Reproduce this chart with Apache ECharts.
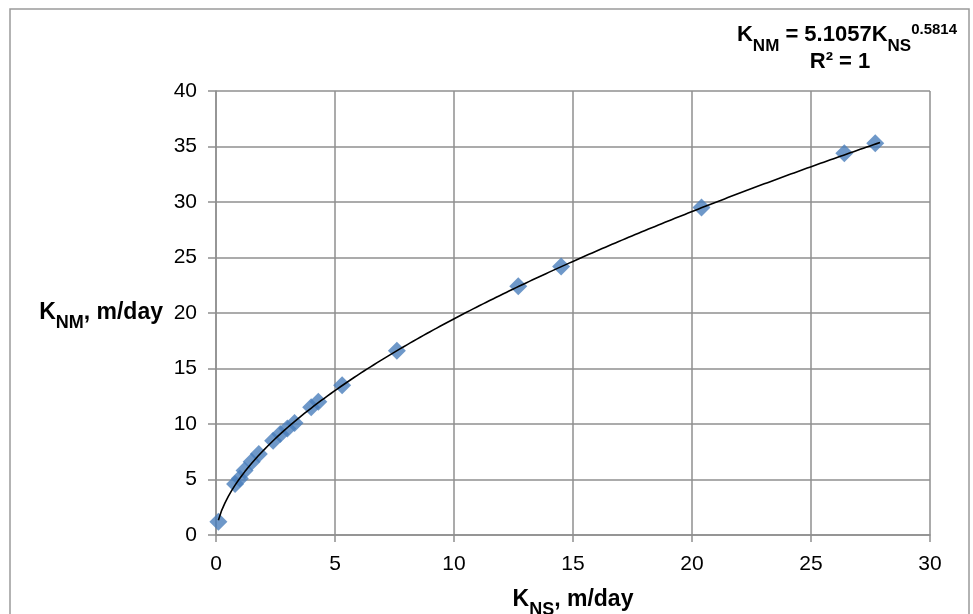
<!DOCTYPE html>
<html>
<head>
<meta charset="utf-8">
<script src="https://cdn.jsdelivr.net/npm/echarts@6/dist/echarts.min.js"></script>
<style>
html,body{margin:0;padding:0;background:#fff;}
#chart{width:973px;height:614px;}
</style>
</head>
<body>
<div id="chart"></div>
<script>
const knsValues = [0.1, 0.8, 1.0, 1.2, 1.5, 1.8, 2.4, 2.7, 3.0, 3.3, 4.0, 4.3, 5.3, 7.6, 12.7, 14.5, 20.4, 26.4, 27.7];
const knmValues = [1.2, 4.6, 5.1, 5.8, 6.6, 7.3, 8.5, 9.1, 9.6, 10.1, 11.5, 12.0, 13.5, 16.6, 22.4, 24.2, 29.5, 34.4, 35.3];

// Power trendline as printed on the chart: K_NM = 5.1057 * K_NS^0.5814
const trendCoef = 5.1057;
const trendExp = 0.5814;
const trendStart = 0.1;
const trendEnd = 27.9;
const trendSteps = 200;

const points = knsValues.map((x, i) => [x, knmValues[i]]);
const trend = [];
for (let i = 0; i <= trendSteps; i++) {
  const x = trendStart + (trendEnd - trendStart) * i / trendSteps;
  trend.push([x, trendCoef * Math.pow(x, trendExp)]);
}

const FONT = '"Liberation Sans", Arial, Helvetica, sans-serif';
const GRID = '#8f8f8f';

const titleRich = {
  b: { fontFamily: FONT, fontWeight: 'bold', fontSize: 23, color: '#000', lineHeight: 25 },
  sub: { fontFamily: FONT, fontWeight: 'bold', fontSize: 18, color: '#000', lineHeight: 18, padding: [21, 0, 0, 0] }
};
const eqRich = {
  b: { fontFamily: FONT, fontWeight: 'bold', fontSize: 22, color: '#000', lineHeight: 24 },
  sub: { fontFamily: FONT, fontWeight: 'bold', fontSize: 17, color: '#000', lineHeight: 17, padding: [23, 0, 0, 0] },
  sup: { fontFamily: FONT, fontWeight: 'bold', fontSize: 15, color: '#000', lineHeight: 15, padding: [0, 0, 11, 0] }
};

const chart = echarts.init(document.getElementById('chart'), null, { renderer: 'canvas' });
chart.setOption({
  animation: false,
  backgroundColor: '#fff',
  grid: { left: 216, right: 43, top: 91, bottom: 79, containLabel: false, outerBoundsMode: 'none' },
  xAxis: {
    type: 'value', min: 0, max: 30, interval: 5,
    name: '{b|K}{sub|NS}{b|, m/day}',
    nameLocation: 'middle', nameGap: 45,
    nameTextStyle: { rich: titleRich },
    axisLine: { show: true, lineStyle: { color: GRID, width: 1.5 } },
    axisTick: { show: true, inside: false, length: 7, lineStyle: { color: GRID, width: 1.5 } },
    axisLabel: { margin: 19, fontFamily: FONT, fontSize: 21, color: '#000' },
    splitLine: { show: true, lineStyle: { color: GRID, width: 1.5 } }
  },
  yAxis: {
    type: 'value', min: 0, max: 40, interval: 5,
    name: '{b|K}{sub|NM}{b|, m/day}',
    nameLocation: 'middle', nameRotate: 0, nameGap: 53,
    nameTextStyle: { rich: titleRich, align: 'right', verticalAlign: 'middle' },
    axisLine: { show: true, lineStyle: { color: GRID, width: 1.5 } },
    axisTick: { show: true, inside: false, length: 8, lineStyle: { color: GRID, width: 1.5 } },
    axisLabel: { margin: 19, fontFamily: FONT, fontSize: 21, color: '#000' },
    splitLine: { show: true, lineStyle: { color: GRID, width: 1.5 } }
  },
  series: [
    {
      name: 'trend', type: 'line', data: trend, showSymbol: false, symbol: 'none',
      lineStyle: { color: '#000', width: 1.6 }, z: 3, silent: true
    },
    {
      name: 'data', type: 'scatter', data: points, symbol: 'diamond', symbolSize: 18,
      itemStyle: { color: '#4A7EBB' }, z: 2
    }
  ],
  graphic: [
    {
      type: 'rect', silent: true,
      shape: { x: 10, y: 9, width: 959, height: 620 },
      style: { fill: 'none', stroke: '#9a9a9a', lineWidth: 1.5 }
    },
    {
      type: 'text', x: 847, y: 35, silent: true,
      style: {
        text: '{b|K}{sub|NM}{b| = 5.1057K}{sub|NS}{sup|0.5814}',
        rich: eqRich, align: 'center', verticalAlign: 'middle'
      }
    },
    {
      type: 'text', x: 840, y: 62, silent: true,
      style: {
        text: 'R² = 1',
        font: 'bold 22px ' + FONT, fill: '#000', align: 'center', verticalAlign: 'middle'
      }
    }
  ]
});
</script>
</body>
</html>
